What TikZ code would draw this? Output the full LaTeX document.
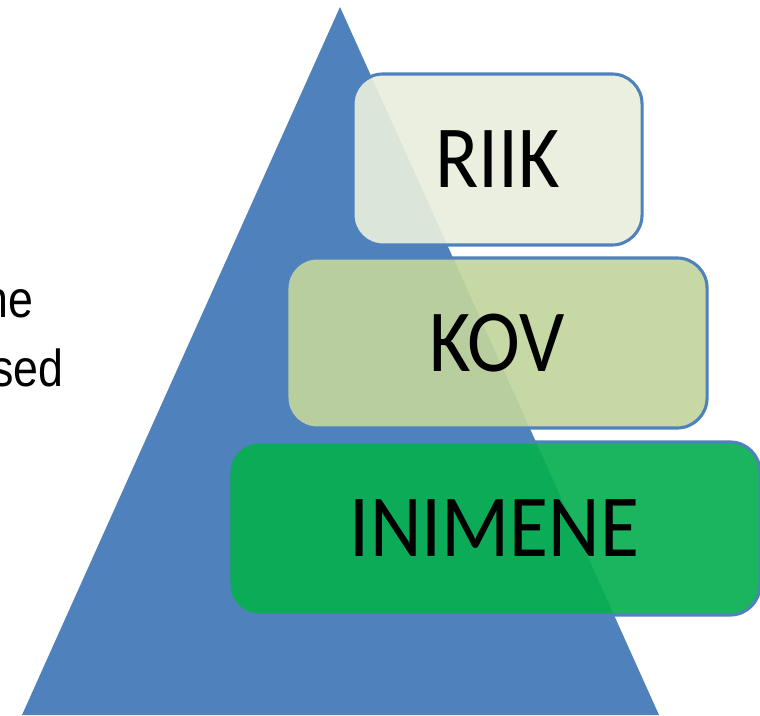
\documentclass[tikz,border=0pt]{standalone}
\usepackage{fontspec}
\setmainfont{Carlito}
\newfontfamily\arialfont{Liberation Sans}
\usetikzlibrary{positioning}
\definecolor{triblue}{HTML}{4F81BD}
\definecolor{riikfill}{RGB}{233,238,220}
\definecolor{kovfill}{RGB}{193,213,156}
\definecolor{inimfill}{RGB}{7,175,80}

\begin{document}
\begin{tikzpicture}[x=0.025cm,y=-0.025cm]
      \useasboundingbox (0,0) rectangle (760,715);

      \fill[triblue] (22,715) -- (340,7) -- (659,715) -- cycle;

      \begin{scope}[font=\fontsize{63}{70}\selectfont]
          \tikzstyle{every node}=[draw=triblue,line width=2.2pt,rounded corners=0.75cm,fill opacity=0.92,text opacity=1,shape=rectangle]
          \node[fill=riikfill,minimum width=7.225cm,minimum height=4.275cm] (riik) at (497.5,159.5) {\scalebox{0.9}[1]{RIIK}};
          \node[fill=kovfill,minimum width=10.5cm,minimum height=4.25cm]    (kov)  at (497,343)     {\scalebox{0.9}[1]{KOV}};
          \node[fill=inimfill,minimum width=13.275cm,minimum height=4.325cm] (inim) at (494.5,528.5) {\scalebox{0.9}[1]{INIMENE}};
      \end{scope}

      \node[anchor=base east,inner sep=0pt,font=\arialfont\fontsize{37}{42}\selectfont] (ne)  at (34,317) {\scalebox{0.86}[1]{ne}};
      \node[anchor=base east,inner sep=0pt,font=\arialfont\fontsize{37}{42}\selectfont] (sed) at (64,386) {\scalebox{0.86}[1]{sed}};
  \end{tikzpicture}
\end{document}
